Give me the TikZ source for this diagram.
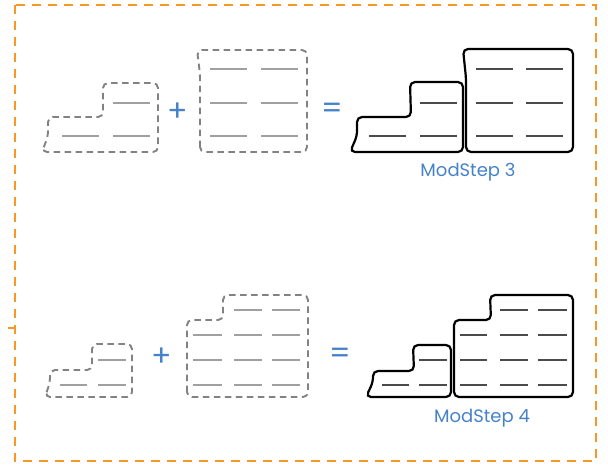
\documentclass[tikz,border=0pt]{standalone}
\usepackage{fontspec}
\setmainfont{Poppins}
\definecolor{frameorange}{RGB}{245,152,38}
\definecolor{opblue}{RGB}{70,130,200}
\definecolor{dashgray}{RGB}{130,130,130}
\definecolor{linelight}{RGB}{160,160,160}
\definecolor{linedark}{RGB}{75,75,75}
\begin{document}
\begin{tikzpicture}[x=1pt,y=-1pt,
  frame/.style={draw=frameorange,line width=2.4pt,dash pattern=on 9pt off 7pt},
  ghost/.style={draw=dashgray,line width=1.9pt,dash pattern=on 6.5pt off 4.5pt,rounded corners=5pt},
  solidpiece/.style={draw=black,line width=2.2pt,rounded corners=5pt},
  lightrule/.style={draw=linelight,line width=1.2pt},
  darkrule/.style={draw=linedark,line width=1.2pt},
  op/.style={text=opblue,font=\fontsize{30}{30}\selectfont,inner sep=0pt},
  caption/.style={text=opblue,font=\fontsize{18}{20}\selectfont,inner sep=0pt}]
\useasboundingbox (0,0) rectangle (608,464);
% frame
\draw[frame] (15,5) rectangle (596,461);
\draw[draw=frameorange,line width=2.4pt] (8,328) -- (15,328);

% ---------- top row ----------
\draw[ghost] (42,152) -- (48,136) -- (48,117) -- (103,117) -- (103,83) -- (158,83) -- (158,152) -- cycle;
\foreach \y/\a/\b in {103/113/150,136/62/99,136/113/150}
  \draw[lightrule] (\a,\y) -- (\b,\y);
\node[op] (plusA) at (178,112) {+};
\draw[ghost] (200,152) -- (200,74) -- (197,50) -- (307,50) -- (307,152) -- cycle;
\foreach \y in {69,103,136}{
  \draw[lightrule] (210,\y) -- (247,\y);
  \draw[lightrule] (261,\y) -- (298,\y);}
\node[op] (eqA) at (332,111) {=};
\draw[solidpiece] (350,152) -- (357,136) -- (357,117) -- (411,117) -- (410,82) -- (463,82) -- (463,152) -- cycle;
\draw[solidpiece] (466,152) -- (466,78) -- (463,49) -- (573,49) -- (573,152) -- cycle;
\foreach \y in {69,103,136}{
  \draw[darkrule] (476,\y) -- (513,\y);
  \draw[darkrule] (526,\y) -- (563,\y);}
\draw[darkrule] (420,103) -- (457,103);
\draw[darkrule] (369,136) -- (406,136);
\draw[darkrule] (420,136) -- (457,136);
\node[caption] (capA) at (468,172) {ModStep 3};

% ---------- bottom row ----------
\draw[ghost] (45,397) -- (50,382) -- (50,370) -- (92,370) -- (92,344) -- (132,344) -- (132,397) -- cycle;
\draw[lightrule] (98,360) -- (126,360);
\draw[lightrule] (60,385) -- (87,385);
\draw[lightrule] (98,385) -- (126,385);
\node[op] (plusB) at (162,357) {+};
\draw[ghost] (187,397) -- (187,320) -- (223,320) -- (223,295) -- (308,295) -- (308,397) -- cycle;
\foreach \y in {310,335,360,385}{
  \draw[lightrule] (234,\y) -- (262,\y);
  \draw[lightrule] (272,\y) -- (300,\y);}
\foreach \y in {335,360,385}
  \draw[lightrule] (193,\y) -- (222,\y);
\node[op] (eqB) at (340,356) {=};
\draw[solidpiece] (366,397) -- (373,382) -- (373,371) -- (414,371) -- (413,345) -- (451,345) -- (451,397) -- cycle;
\draw[solidpiece] (454,397) -- (454,320) -- (491,320) -- (490,295) -- (573,295) -- (573,397) -- cycle;
\foreach \y in {310,335,360,385}{
  \draw[darkrule] (500,\y) -- (528,\y);
  \draw[darkrule] (538,\y) -- (567,\y);}
\foreach \y in {335,360,385}
  \draw[darkrule] (460,\y) -- (487,\y);
\draw[darkrule] (419,360) -- (447,360);
\draw[darkrule] (419,385) -- (447,385);
\draw[darkrule] (382,385) -- (409,385);
\node[caption] (capB) at (482,418) {ModStep 4};
\end{tikzpicture}
\end{document}
